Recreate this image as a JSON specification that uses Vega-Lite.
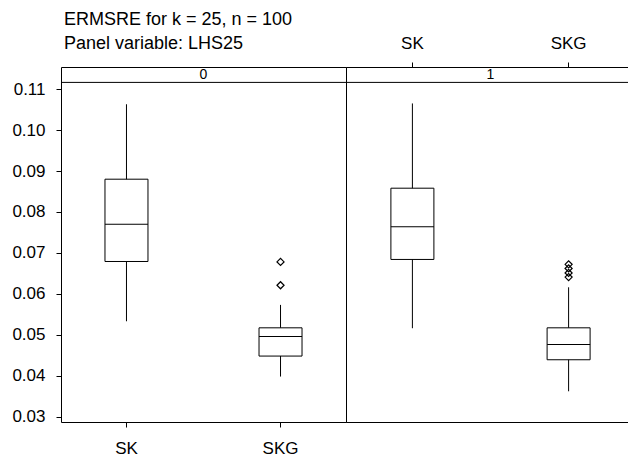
{
  "$schema": "https://vega.github.io/schema/vega-lite/v6.json",
  "background": "white",
  "padding": {"left": 11, "top": 10, "right": 0, "bottom": 0},
  "spacing": 0,
  "bounds": "flush",
  "config": {
    "font": "Liberation Sans",
    "view": {"stroke": "black", "strokeWidth": 1},
    "axis": {"labelColor": "black", "tickColor": "black", "labelFontSize": 17, "labelFont": "Liberation Sans", "tickSize": 5, "domain": false, "grid": false, "title": null}
  },
  "datasets": {
    "boxes": [
      {"panel": 0, "method": "SK", "lower": 0.1063, "q3": 0.0880, "median": 0.0770, "q1": 0.0679, "upper": 0.0533},
      {"panel": 0, "method": "SKG", "lower": 0.0573, "q3": 0.0517, "median": 0.0496, "q1": 0.0448, "upper": 0.0398},
      {"panel": 1, "method": "SK", "lower": 0.1065, "q3": 0.0858, "median": 0.0764, "q1": 0.0684, "upper": 0.0516},
      {"panel": 1, "method": "SKG", "lower": 0.0616, "q3": 0.0517, "median": 0.0476, "q1": 0.0439, "upper": 0.0362}
    ],
    "outliers": [
      {"panel": 0, "method": "SKG", "value": 0.0678},
      {"panel": 0, "method": "SKG", "value": 0.0621},
      {"panel": 1, "method": "SKG", "value": 0.0672},
      {"panel": 1, "method": "SKG", "value": 0.0662},
      {"panel": 1, "method": "SKG", "value": 0.0651},
      {"panel": 1, "method": "SKG", "value": 0.0641}
    ],
    "strips": [
      {"panel": 0, "label": "0"},
      {"panel": 1, "label": "1"}
    ]
  },
  "hconcat": [
    {
      "width": 285,
      "height": 355,
      "title": {"text": "ERMSRE for k = 25, n = 100", "subtitle": "Panel variable: LHS25", "anchor": "start", "frame": "group", "fontSize": 18, "subtitleFontSize": 18, "fontWeight": "normal", "color": "black", "subtitleColor": "black", "font": "Liberation Sans", "subtitleFont": "Liberation Sans", "subtitlePadding": 6, "offset": 14, "dx": 3},
      "layer": [
        {
          "data": {"name": "boxes"},
          "transform": [{"filter": "datum.panel == 0"}],
          "mark": {"type": "rule", "color": "black", "strokeWidth": 1},
          "encoding": {
            "x": {"field": "method", "type": "nominal", "scale": {"type": "band", "paddingInner": 0.5, "paddingOuter": 0.175}, "axis": {"orient": "bottom", "labelAngle": 0, "labelPadding": 13}},
            "y": {"field": "lower", "type": "quantitative", "scale": {"domain": [0.0287, 0.1154], "nice": false, "zero": false}, "axis": {"values": [0.03, 0.04, 0.05, 0.06, 0.07, 0.08, 0.09, 0.10, 0.11], "format": ".2f", "labelPadding": 11}},
            "y2": {"field": "upper"}
          }
        },
        {
          "data": {"name": "boxes"},
          "transform": [{"filter": "datum.panel == 0"}],
          "mark": {"type": "bar", "width": 43, "fill": "white", "stroke": "black", "strokeWidth": 1},
          "encoding": {
            "x": {"field": "method", "type": "nominal"},
            "y": {"field": "q1", "type": "quantitative"},
            "y2": {"field": "q3"}
          }
        },
        {
          "data": {"name": "boxes"},
          "transform": [{"filter": "datum.panel == 0"}],
          "mark": {"type": "tick", "size": 43, "thickness": 1, "color": "black", "opacity": 1},
          "encoding": {
            "x": {"field": "method", "type": "nominal"},
            "y": {"field": "median", "type": "quantitative"}
          }
        },
        {
          "data": {"name": "outliers"},
          "transform": [{"filter": "datum.panel == 0"}],
          "mark": {"type": "point", "shape": "diamond", "size": 50, "filled": false, "color": "black", "strokeWidth": 1.2, "opacity": 1},
          "encoding": {
            "x": {"field": "method", "type": "nominal"},
            "y": {"field": "value", "type": "quantitative"}
          }
        },
        {
          "data": {"name": "strips"},
          "transform": [{"filter": "datum.panel == 0"}],
          "mark": {"type": "rule", "color": "black", "strokeWidth": 1},
          "encoding": {"y": {"datum": 0.11164, "type": "quantitative"}}
        },
        {
          "data": {"name": "strips"},
          "transform": [{"filter": "datum.panel == 0"}],
          "mark": {"type": "text", "fontSize": 14, "color": "black", "baseline": "middle", "align": "center"},
          "encoding": {"y": {"datum": 0.11347, "type": "quantitative"}, "text": {"field": "label"}}
        }
      ]
    },
    {
      "width": 289,
      "height": 355,
      "layer": [
        {
          "data": {"name": "boxes"},
          "transform": [{"filter": "datum.panel == 1"}],
          "mark": {"type": "rule", "color": "black", "strokeWidth": 1},
          "encoding": {
            "x": {"field": "method", "type": "nominal", "scale": {"type": "band", "paddingInner": 0.5, "paddingOuter": 0.175}, "axis": {"orient": "top", "labelAngle": 0, "labelPadding": 9.5}},
            "y": {"field": "lower", "type": "quantitative", "scale": {"domain": [0.0287, 0.1154], "nice": false, "zero": false}, "axis": null},
            "y2": {"field": "upper"}
          }
        },
        {
          "data": {"name": "boxes"},
          "transform": [{"filter": "datum.panel == 1"}],
          "mark": {"type": "bar", "width": 43, "fill": "white", "stroke": "black", "strokeWidth": 1},
          "encoding": {
            "x": {"field": "method", "type": "nominal"},
            "y": {"field": "q1", "type": "quantitative"},
            "y2": {"field": "q3"}
          }
        },
        {
          "data": {"name": "boxes"},
          "transform": [{"filter": "datum.panel == 1"}],
          "mark": {"type": "tick", "size": 43, "thickness": 1, "color": "black", "opacity": 1},
          "encoding": {
            "x": {"field": "method", "type": "nominal"},
            "y": {"field": "median", "type": "quantitative"}
          }
        },
        {
          "data": {"name": "outliers"},
          "transform": [{"filter": "datum.panel == 1"}],
          "mark": {"type": "point", "shape": "diamond", "size": 50, "filled": false, "color": "black", "strokeWidth": 1.2, "opacity": 1},
          "encoding": {
            "x": {"field": "method", "type": "nominal"},
            "y": {"field": "value", "type": "quantitative"}
          }
        },
        {
          "data": {"name": "strips"},
          "transform": [{"filter": "datum.panel == 1"}],
          "mark": {"type": "rule", "color": "black", "strokeWidth": 1},
          "encoding": {"y": {"datum": 0.11164, "type": "quantitative"}}
        },
        {
          "data": {"name": "strips"},
          "transform": [{"filter": "datum.panel == 1"}],
          "mark": {"type": "text", "fontSize": 14, "color": "black", "baseline": "middle", "align": "center"},
          "encoding": {"y": {"datum": 0.11347, "type": "quantitative"}, "text": {"field": "label"}}
        }
      ]
    }
  ]
}
